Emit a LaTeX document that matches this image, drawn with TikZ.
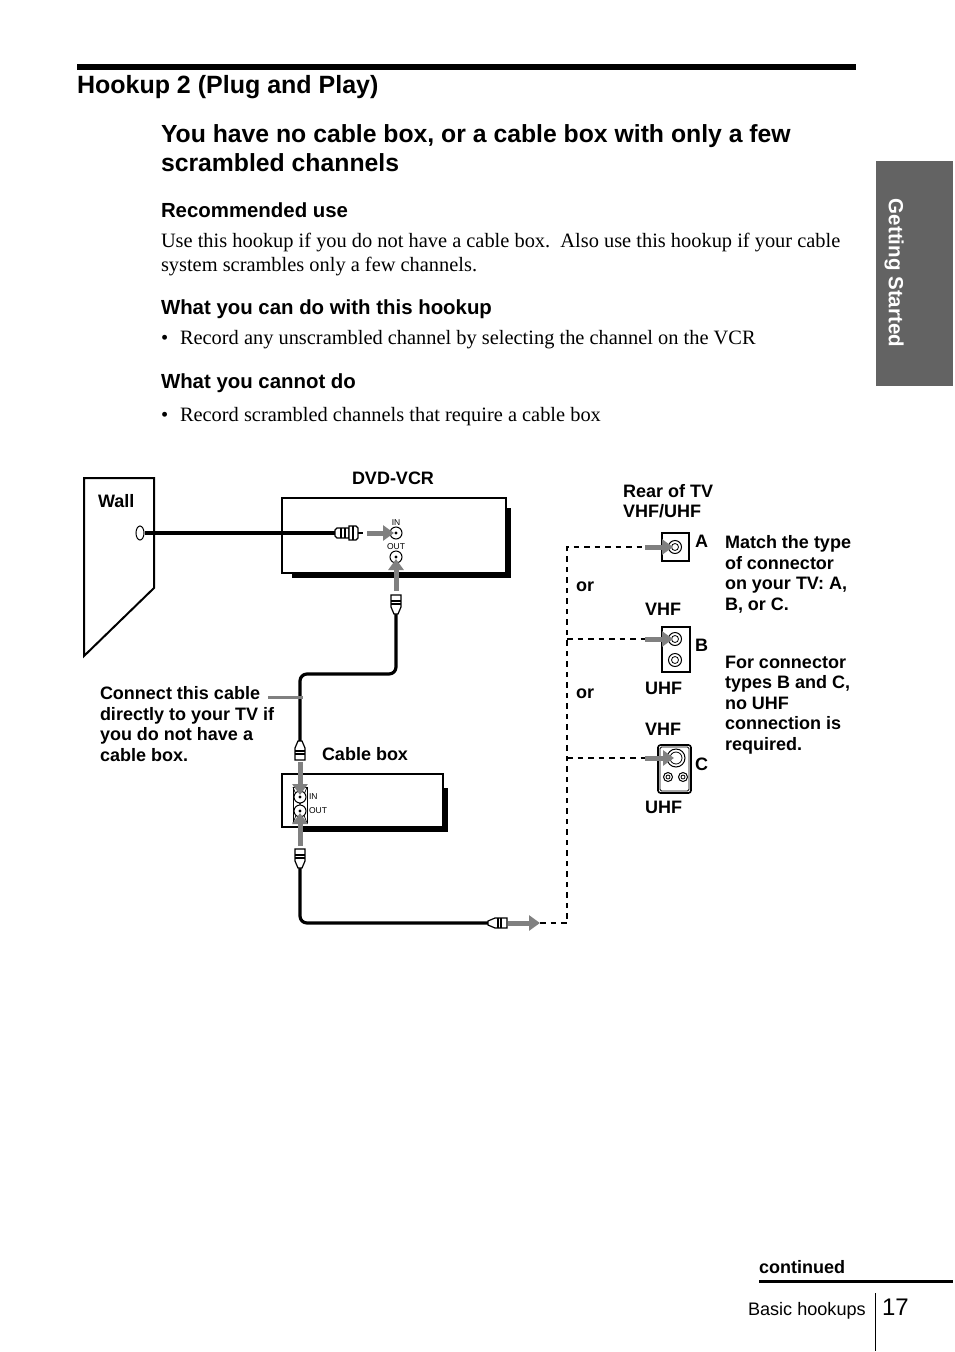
\documentclass[tikz,border=0pt]{standalone}
\usepackage{fontspec}
\setmainfont{Liberation Serif}
\setsansfont{Liberation Sans}
\usetikzlibrary{arrows.meta,positioning,calc,shapes.geometric}
\newcommand{\szHead}{\fontsize{25}{29}\selectfont\sffamily\bfseries}
\newcommand{\szTop}{\fontsize{24.76}{29}\selectfont\sffamily\bfseries}
\newcommand{\szSub}{\fontsize{20.4}{24}\selectfont\sffamily\bfseries}
\newcommand{\szBody}{\fontsize{20.4}{24.3}\selectfont\rmfamily}
\newcommand{\szLab}{\fontsize{18}{20.4}\selectfont\sffamily\bfseries}
\definecolor{sigcol}{gray}{.5}
\definecolor{tabcol}{gray}{.39}
\tikzset{
  txt/.style={inner sep=0,outer sep=0,anchor=base west,align=left},
  head/.style={txt,font=\szHead},
  sub/.style={txt,font=\szSub},
  body/.style={txt,font=\szBody},
  lab/.style={txt,font=\szLab},
  smalllab/.style={inner sep=0,outer sep=0,font=\fontsize{8.5}{9}\selectfont\sffamily},
  cable/.style={line width=3.2pt,rounded corners=7pt},
  sig/.style={line width=5pt,draw=sigcol,shorten >=2pt,-{Triangle[length=11pt,width=15pt,fill=sigcol]}},
  dashline/.style={line width=2.2pt,dash pattern=on 5.5pt off 5pt},
  jack/.style={circle,draw,line width=1pt,minimum size=12pt,inner sep=0,fill=white},
  boxface/.style={draw,line width=2.6pt,fill=white},
  plug/.pic={
    \draw[fill=white,line width=1.2pt] (0,-2) .. controls (3,-2) and (4,-5) .. (7,-5) -- (19,-5) -- (19,5) -- (7,5) .. controls (4,5) and (3,2) .. (0,2) -- cycle;
    \draw[line width=1.2pt] (10,-5) -- (10,5) (13,-5) -- (13,5);
  },
}
\newcommand{\jackdot}[1]{\fill (#1) circle[radius=1.7];}
\begin{document}
\begin{tikzpicture}[x=1pt,y=-1pt]
  \useasboundingbox (0,0) rectangle (954,1352);
  % page text
  \fill (77,64) rectangle (856,70);
  \node[head] (title) at (77,93) {Hookup 2 (Plug and Play)};
  \node[txt,font=\szTop] (sub1) at (161,142.5) {You have no cable box, or a cable box with only a few};
  \node[txt,font=\szTop] (sub2) at (161,171.5) {scrambled channels};
  \node[sub] (rec) at (161,217) {Recommended use};
  \node[body] (rec1) at (161,247) {Use this hookup if you do not have a cable box.\ \ Also use this hookup if your cable};
  \node[body] (rec2) at (161,271) {system scrambles only a few channels.};
  \node[sub] (can) at (161,314) {What you can do with this hookup};
  \node[body] (can1) at (161,344) {•};
  \node[body] (can2) at (180,344) {Record any unscrambled channel by selecting the channel on the VCR};
  \node[sub] (cannot) at (161,388) {What you cannot do};
  \node[body] (cannot1) at (161,421) {•};
  \node[body] (cannot2) at (180,421) {Record scrambled channels that require a cable box};
  % side tab
  \fill[tabcol] (876,161) rectangle (953,386);
  \node[rotate=-90,inner sep=0,font=\fontsize{20.5}{24}\selectfont\sffamily\bfseries,text=white] (tab) at (894,273) {Getting Started};
  % wall
  \draw[line width=2pt] (84,478) -- (154,478) -- (154,588) -- (84,656) -- cycle;
  \node[lab] (wall) at (98,507) {Wall};
  \node[draw,ellipse,line width=1pt,minimum width=8pt,minimum height=14pt,inner sep=0] (wallout) at (140,533) {};
  % dvd-vcr
  \fill (292,508) rectangle (511,578);
  \draw[boxface] (282,498) rectangle (506,573);
  \node[lab] (vcrname) at (352,484) {DVD-VCR};
  \node[jack] (vcrin) at (396,533) {};
  \node[jack] (vcrout) at (396,557) {};
  \jackdot{vcrin} \jackdot{vcrout}
  \node[smalllab] (vcrinlab) at (396,523) {IN};
  \node[smalllab] (vcroutlab) at (396,547) {OUT};
  \coordinate (wallplug) at (335,533);
  \draw[cable] (wallout.east) -- (wallplug);
  \draw[fill=white,line width=1.1pt] (335,530) -- (337,528) -- (349,528) -- (349,538) -- (337,538) -- (335,536) -- cycle;
  \draw[fill=white,line width=1.1pt] (349,526) -- (356,526) -- (358,528) -- (358,538) -- (356,540) -- (349,540) -- cycle;
  \draw[line width=1.1pt] (341,528) -- (341,538) (345,528) -- (345,538) (353,526) -- (353,540) (358,533) -- (363,533);
  \coordinate (wallsig) at (367,533);
  \draw[sig] (wallsig) -- (vcrin.center);
  \coordinate (outsig) at (396,591);
  \draw[sig] (outsig) -- (vcrout.center);
  \coordinate (plugvcr) at (396,614);
  \coordinate (plugbox) at (300,741);
  \draw[cable] (plugvcr) -- (396,674) -- (300,674) -- (plugbox);
  \pic[rotate=90] at (plugvcr) {plug};
  \pic[rotate=-90] at (plugbox) {plug};
  % cable box
  \fill (303,788) rectangle (448,832);
  \draw[boxface] (282,774) rectangle (443,827);
  \draw[line width=1pt,fill=white] (293,787) rectangle (307,823);
  \draw[line width=.7pt] (293,787) -- (307,823) (307,787) -- (293,823);
  \node[lab] (boxname) at (322,760) {Cable box};
  \node[jack] (boxin) at (300,797) {};
  \node[jack] (boxout) at (300,811) {};
  \jackdot{boxin} \jackdot{boxout}
  \node[smalllab,anchor=west] (boxinlab) at (309,797) {IN};
  \node[smalllab,anchor=west] (boxoutlab) at (309,811) {OUT};
  \coordinate (insig) at (300,762);
  \draw[sig] (insig) -- (boxin.center);
  \coordinate (upsig) at (300,846);
  \draw[sig] (upsig) -- (boxout.center);
  % connect note
  \node[lab] (note) at (100,761) {Connect this cable\\directly to your TV if\\you do not have a\\cable box.};
  \coordinate (noteleft) at (268,697);
  \coordinate (noteright) at (303,697);
  \draw[line width=3pt,sigcol] (noteleft) -- (noteright);
  % cable to tv
  \coordinate (plugback) at (300,868);
  \coordinate (plugtv) at (488,923);
  \draw[cable] (plugback) -- (300,923) -- (plugtv);
  \pic[rotate=90] at (plugback) {plug};
  \pic at (plugtv) {plug};
  \coordinate (tvsig) at (508,923);
  \coordinate (dashstart) at (540,923);
  \draw[sig,shorten >=0pt] (tvsig) -- (dashstart);
  \coordinate (dashbottom) at (567,923);
  \coordinate (dashtop) at (567,547);
  \draw[dashline] (dashstart) -- (dashbottom) -- (dashtop) -- (645,547);
  \draw[dashline] (567,639) -- (645,639);
  \draw[dashline] (567,758) -- (645,758);
  % tv connectors
  \node[lab] (rear) at (623,517.5) {Rear of TV\\VHF/UHF};
  \draw[line width=1.6pt,fill=white] (662,533) rectangle (689,561);
  \draw[line width=1.6pt,fill=white] (662,627) rectangle (690,672);
  \draw[line width=1.6pt,fill=white,rounded corners=2.5pt] (658,745) rectangle (691,793);
  \draw[line width=.8pt,rounded corners=1.5pt] (660,747) rectangle (689,791);
  \node[jack,minimum size=13pt] (ajack) at (675,547) {};
  \node[jack,minimum size=13pt] (bjack) at (675,639) {};
  \node[jack,minimum size=13pt] (bjackb) at (675,660) {};
  \node[jack,minimum size=18pt] (cjack) at (676,758) {};
  \node[jack,minimum size=9pt] (cjackl) at (668,777) {};
  \node[jack,minimum size=9pt] (cjackr) at (683,777) {};
  \foreach \j/\r in {ajack/3.5,bjack/3.5,bjackb/3.5,cjack/6,cjackl/2,cjackr/2}
    \draw[line width=.8pt] (\j) circle[radius=\r];
  \coordinate (asig) at (645,547);
  \coordinate (bsig) at (645,639);
  \coordinate (csig) at (645,758);
  \draw[sig] (asig) -- (ajack.center);
  \draw[sig] (bsig) -- (bjack.center);
  \draw[sig] (csig) -- (cjack.center);
  \node[lab] (alab) at (695,547) {A};
  \node[lab] (blab) at (695,651) {B};
  \node[lab] (clab) at (695,770) {C};
  \node[lab] (or1) at (576,591) {or};
  \node[lab] (or2) at (576,698) {or};
  \node[lab] (vhf1) at (645,615) {VHF};
  \node[lab] (uhf1) at (645,694) {UHF};
  \node[lab] (vhf2) at (645,735) {VHF};
  \node[lab] (uhf2) at (645,813) {UHF};
  \node[lab] (match) at (725,610) {Match the type\\of connector\\on your TV: A,\\B, or C.};
  \node[lab] (types) at (725,750) {For connector\\types B and C,\\no UHF\\connection is\\required.};
  % footer
  \node[lab] (cont) at (759,1273) {continued};
  \fill (759,1280) rectangle (953,1283);
  \node[txt,font=\fontsize{18.1}{22}\selectfont\sffamily] (foot) at (748,1315) {Basic hookups};
  \coordinate (ruletop) at (875,1293);
  \coordinate (rulebot) at (875,1351);
  \draw[line width=1pt] (ruletop) -- (rulebot);
  \node[txt,font=\fontsize{24}{28}\selectfont\sffamily] (pagenum) at (882,1315) {17};
\end{tikzpicture}
\end{document}
